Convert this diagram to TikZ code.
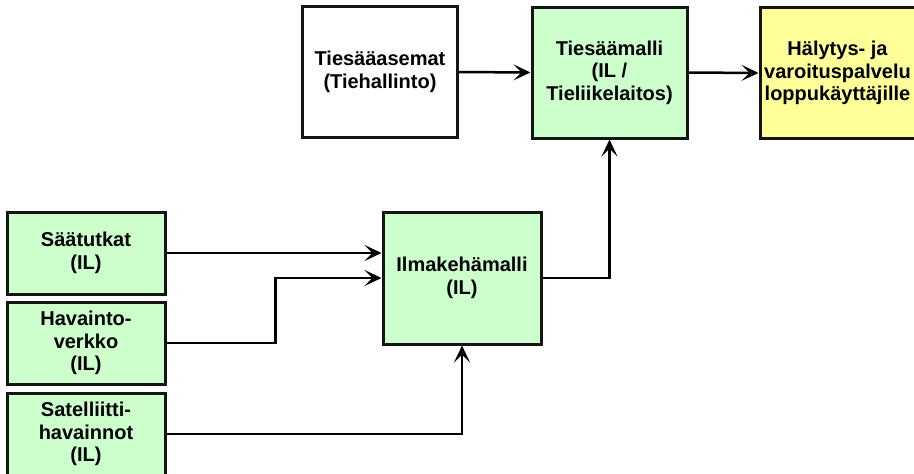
\documentclass[tikz,border=0pt]{standalone}
\usepackage{fontspec}
\setmainfont{Liberation Sans}
\usetikzlibrary{arrows.meta}
\definecolor{boxgreen}{HTML}{CCFFCC}
\definecolor{boxyellow}{HTML}{FFFF99}
\definecolor{edge}{HTML}{141414}
\begin{document}
\begin{tikzpicture}[x=1pt,y=-1pt,
  blok/.style={draw=edge, line width=3pt, rectangle, align=center,
    font=\fontsize{20}{22.5}\selectfont\bfseries, inner sep=0pt},
  tall/.style={blok, minimum width=155pt, minimum height=131pt},
  small/.style={blok, minimum width=158pt, minimum height=82pt},
  flow/.style={draw=black, line width=2.5pt,
    -{Stealth[length=17pt, width=16pt, inset=8pt]}}]
  \useasboundingbox (0,0) rectangle (914,474);

  % upper row
  \node[tall, fill=white] (asemat) at (380,72) {Tiesääasemat\\(Tiehallinto)};
  \node[tall, fill=boxgreen] (tiemalli) at (609.5,72.5) {Tiesäämalli\\(IL /\\Tieliikelaitos)};
  \node[tall, fill=boxyellow] (palvelu) at (837.5,73) {Hälytys- ja\\varoituspalvelu\\loppukäyttäjille};

  % observation sources
  \node[small, fill=boxgreen] (tutkat) at (86,253) {Säätutkat\\(IL)};
  \node[small, fill=boxgreen] (verkko) at (86,343) {Havainto-\\verkko\\(IL)};
  \node[small, fill=boxgreen] (satelliitti) at (86,434) {Satelliitti-\\havainnot\\(IL)};

  % atmospheric model
  \node[blok, fill=boxgreen, minimum width=158pt, minimum height=132pt] (ilmakeha) at (462,278) {Ilmakehämalli\\(IL)};

  % connectors
  \draw[flow] (tutkat.east) -- (tutkat.east -| ilmakeha.west);
  \draw[flow] (verkko.east) -- ++(109,0) |- (ilmakeha.west);
  \draw[flow] (satelliitti.east) -| (ilmakeha.south);
  \draw[flow] (ilmakeha.east) -| (tiemalli.south);
  \draw[flow] (asemat.east) -- (tiemalli.west);
  \draw[flow] (tiemalli.east) -- (palvelu.west);
\end{tikzpicture}
\end{document}
